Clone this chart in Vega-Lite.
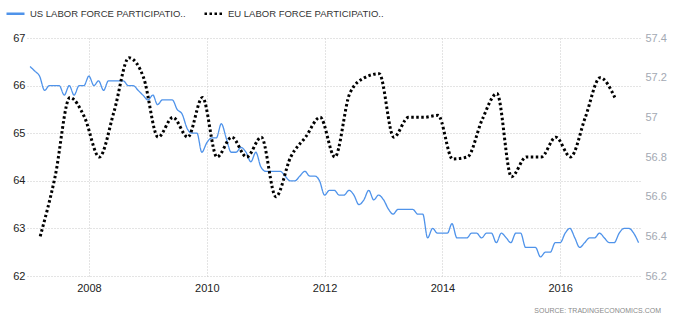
{
  "$schema": "https://vega.github.io/schema/vega-lite/v6.json",
  "width": 613,
  "height": 238,
  "autosize": {"type": "none"},
  "padding": {"left": 27, "top": 38, "right": 36, "bottom": 49},
  "background": "white",
  "config": {
    "view": {"stroke": null},
    "font": "Liberation Sans",
    "axis": {"domain": false, "ticks": false, "grid": true, "gridColor": "#c8c8c8", "gridDash": [1, 2], "gridWidth": 1, "labelFont": "Liberation Sans", "labelFontSize": 11, "title": null}
  },
  "title": {"text": "SOURCE: TRADINGECONOMICS.COM", "orient": "bottom", "anchor": "end", "frame": "group", "fontSize": 7, "fontWeight": "normal", "color": "#8a8a8a", "font": "Liberation Sans", "dx": 21, "offset": 14},
  "datasets": {
    "us": [
      {"series": "US LABOR FORCE PARTICIPATIO..", "date": "2007-01-01", "value": 66.4},
      {"series": "US LABOR FORCE PARTICIPATIO..", "date": "2007-02-01", "value": 66.3},
      {"series": "US LABOR FORCE PARTICIPATIO..", "date": "2007-03-01", "value": 66.2},
      {"series": "US LABOR FORCE PARTICIPATIO..", "date": "2007-04-01", "value": 65.9},
      {"series": "US LABOR FORCE PARTICIPATIO..", "date": "2007-05-01", "value": 66.0},
      {"series": "US LABOR FORCE PARTICIPATIO..", "date": "2007-06-01", "value": 66.0},
      {"series": "US LABOR FORCE PARTICIPATIO..", "date": "2007-07-01", "value": 66.0},
      {"series": "US LABOR FORCE PARTICIPATIO..", "date": "2007-08-01", "value": 65.8},
      {"series": "US LABOR FORCE PARTICIPATIO..", "date": "2007-09-01", "value": 66.0},
      {"series": "US LABOR FORCE PARTICIPATIO..", "date": "2007-10-01", "value": 65.8},
      {"series": "US LABOR FORCE PARTICIPATIO..", "date": "2007-11-01", "value": 66.0},
      {"series": "US LABOR FORCE PARTICIPATIO..", "date": "2007-12-01", "value": 66.0},
      {"series": "US LABOR FORCE PARTICIPATIO..", "date": "2008-01-01", "value": 66.2},
      {"series": "US LABOR FORCE PARTICIPATIO..", "date": "2008-02-01", "value": 66.0},
      {"series": "US LABOR FORCE PARTICIPATIO..", "date": "2008-03-01", "value": 66.1},
      {"series": "US LABOR FORCE PARTICIPATIO..", "date": "2008-04-01", "value": 65.9},
      {"series": "US LABOR FORCE PARTICIPATIO..", "date": "2008-05-01", "value": 66.1},
      {"series": "US LABOR FORCE PARTICIPATIO..", "date": "2008-06-01", "value": 66.1},
      {"series": "US LABOR FORCE PARTICIPATIO..", "date": "2008-07-01", "value": 66.1},
      {"series": "US LABOR FORCE PARTICIPATIO..", "date": "2008-08-01", "value": 66.1},
      {"series": "US LABOR FORCE PARTICIPATIO..", "date": "2008-09-01", "value": 66.0},
      {"series": "US LABOR FORCE PARTICIPATIO..", "date": "2008-10-01", "value": 66.0},
      {"series": "US LABOR FORCE PARTICIPATIO..", "date": "2008-11-01", "value": 65.9},
      {"series": "US LABOR FORCE PARTICIPATIO..", "date": "2008-12-01", "value": 65.8},
      {"series": "US LABOR FORCE PARTICIPATIO..", "date": "2009-01-01", "value": 65.7},
      {"series": "US LABOR FORCE PARTICIPATIO..", "date": "2009-02-01", "value": 65.8},
      {"series": "US LABOR FORCE PARTICIPATIO..", "date": "2009-03-01", "value": 65.6},
      {"series": "US LABOR FORCE PARTICIPATIO..", "date": "2009-04-01", "value": 65.7},
      {"series": "US LABOR FORCE PARTICIPATIO..", "date": "2009-05-01", "value": 65.7},
      {"series": "US LABOR FORCE PARTICIPATIO..", "date": "2009-06-01", "value": 65.7},
      {"series": "US LABOR FORCE PARTICIPATIO..", "date": "2009-07-01", "value": 65.5},
      {"series": "US LABOR FORCE PARTICIPATIO..", "date": "2009-08-01", "value": 65.4},
      {"series": "US LABOR FORCE PARTICIPATIO..", "date": "2009-09-01", "value": 65.1},
      {"series": "US LABOR FORCE PARTICIPATIO..", "date": "2009-10-01", "value": 65.0},
      {"series": "US LABOR FORCE PARTICIPATIO..", "date": "2009-11-01", "value": 65.0},
      {"series": "US LABOR FORCE PARTICIPATIO..", "date": "2009-12-01", "value": 64.6},
      {"series": "US LABOR FORCE PARTICIPATIO..", "date": "2010-01-01", "value": 64.8},
      {"series": "US LABOR FORCE PARTICIPATIO..", "date": "2010-02-01", "value": 64.9},
      {"series": "US LABOR FORCE PARTICIPATIO..", "date": "2010-03-01", "value": 64.9},
      {"series": "US LABOR FORCE PARTICIPATIO..", "date": "2010-04-01", "value": 65.2},
      {"series": "US LABOR FORCE PARTICIPATIO..", "date": "2010-05-01", "value": 64.9},
      {"series": "US LABOR FORCE PARTICIPATIO..", "date": "2010-06-01", "value": 64.6},
      {"series": "US LABOR FORCE PARTICIPATIO..", "date": "2010-07-01", "value": 64.6},
      {"series": "US LABOR FORCE PARTICIPATIO..", "date": "2010-08-01", "value": 64.7},
      {"series": "US LABOR FORCE PARTICIPATIO..", "date": "2010-09-01", "value": 64.6},
      {"series": "US LABOR FORCE PARTICIPATIO..", "date": "2010-10-01", "value": 64.4},
      {"series": "US LABOR FORCE PARTICIPATIO..", "date": "2010-11-01", "value": 64.6},
      {"series": "US LABOR FORCE PARTICIPATIO..", "date": "2010-12-01", "value": 64.3},
      {"series": "US LABOR FORCE PARTICIPATIO..", "date": "2011-01-01", "value": 64.2},
      {"series": "US LABOR FORCE PARTICIPATIO..", "date": "2011-02-01", "value": 64.2},
      {"series": "US LABOR FORCE PARTICIPATIO..", "date": "2011-03-01", "value": 64.2},
      {"series": "US LABOR FORCE PARTICIPATIO..", "date": "2011-04-01", "value": 64.2},
      {"series": "US LABOR FORCE PARTICIPATIO..", "date": "2011-05-01", "value": 64.1},
      {"series": "US LABOR FORCE PARTICIPATIO..", "date": "2011-06-01", "value": 64.0},
      {"series": "US LABOR FORCE PARTICIPATIO..", "date": "2011-07-01", "value": 64.0},
      {"series": "US LABOR FORCE PARTICIPATIO..", "date": "2011-08-01", "value": 64.1},
      {"series": "US LABOR FORCE PARTICIPATIO..", "date": "2011-09-01", "value": 64.2},
      {"series": "US LABOR FORCE PARTICIPATIO..", "date": "2011-10-01", "value": 64.1},
      {"series": "US LABOR FORCE PARTICIPATIO..", "date": "2011-11-01", "value": 64.1},
      {"series": "US LABOR FORCE PARTICIPATIO..", "date": "2011-12-01", "value": 64.0},
      {"series": "US LABOR FORCE PARTICIPATIO..", "date": "2012-01-01", "value": 63.7},
      {"series": "US LABOR FORCE PARTICIPATIO..", "date": "2012-02-01", "value": 63.8},
      {"series": "US LABOR FORCE PARTICIPATIO..", "date": "2012-03-01", "value": 63.8},
      {"series": "US LABOR FORCE PARTICIPATIO..", "date": "2012-04-01", "value": 63.7},
      {"series": "US LABOR FORCE PARTICIPATIO..", "date": "2012-05-01", "value": 63.7},
      {"series": "US LABOR FORCE PARTICIPATIO..", "date": "2012-06-01", "value": 63.8},
      {"series": "US LABOR FORCE PARTICIPATIO..", "date": "2012-07-01", "value": 63.7},
      {"series": "US LABOR FORCE PARTICIPATIO..", "date": "2012-08-01", "value": 63.5},
      {"series": "US LABOR FORCE PARTICIPATIO..", "date": "2012-09-01", "value": 63.6},
      {"series": "US LABOR FORCE PARTICIPATIO..", "date": "2012-10-01", "value": 63.8},
      {"series": "US LABOR FORCE PARTICIPATIO..", "date": "2012-11-01", "value": 63.6},
      {"series": "US LABOR FORCE PARTICIPATIO..", "date": "2012-12-01", "value": 63.7},
      {"series": "US LABOR FORCE PARTICIPATIO..", "date": "2013-01-01", "value": 63.6},
      {"series": "US LABOR FORCE PARTICIPATIO..", "date": "2013-02-01", "value": 63.4},
      {"series": "US LABOR FORCE PARTICIPATIO..", "date": "2013-03-01", "value": 63.3},
      {"series": "US LABOR FORCE PARTICIPATIO..", "date": "2013-04-01", "value": 63.4},
      {"series": "US LABOR FORCE PARTICIPATIO..", "date": "2013-05-01", "value": 63.4},
      {"series": "US LABOR FORCE PARTICIPATIO..", "date": "2013-06-01", "value": 63.4},
      {"series": "US LABOR FORCE PARTICIPATIO..", "date": "2013-07-01", "value": 63.4},
      {"series": "US LABOR FORCE PARTICIPATIO..", "date": "2013-08-01", "value": 63.3},
      {"series": "US LABOR FORCE PARTICIPATIO..", "date": "2013-09-01", "value": 63.3},
      {"series": "US LABOR FORCE PARTICIPATIO..", "date": "2013-10-01", "value": 62.8},
      {"series": "US LABOR FORCE PARTICIPATIO..", "date": "2013-11-01", "value": 63.0},
      {"series": "US LABOR FORCE PARTICIPATIO..", "date": "2013-12-01", "value": 62.9},
      {"series": "US LABOR FORCE PARTICIPATIO..", "date": "2014-01-01", "value": 62.9},
      {"series": "US LABOR FORCE PARTICIPATIO..", "date": "2014-02-01", "value": 62.9},
      {"series": "US LABOR FORCE PARTICIPATIO..", "date": "2014-03-01", "value": 63.1},
      {"series": "US LABOR FORCE PARTICIPATIO..", "date": "2014-04-01", "value": 62.8},
      {"series": "US LABOR FORCE PARTICIPATIO..", "date": "2014-05-01", "value": 62.8},
      {"series": "US LABOR FORCE PARTICIPATIO..", "date": "2014-06-01", "value": 62.8},
      {"series": "US LABOR FORCE PARTICIPATIO..", "date": "2014-07-01", "value": 62.9},
      {"series": "US LABOR FORCE PARTICIPATIO..", "date": "2014-08-01", "value": 62.9},
      {"series": "US LABOR FORCE PARTICIPATIO..", "date": "2014-09-01", "value": 62.8},
      {"series": "US LABOR FORCE PARTICIPATIO..", "date": "2014-10-01", "value": 62.9},
      {"series": "US LABOR FORCE PARTICIPATIO..", "date": "2014-11-01", "value": 62.9},
      {"series": "US LABOR FORCE PARTICIPATIO..", "date": "2014-12-01", "value": 62.7},
      {"series": "US LABOR FORCE PARTICIPATIO..", "date": "2015-01-01", "value": 62.9},
      {"series": "US LABOR FORCE PARTICIPATIO..", "date": "2015-02-01", "value": 62.8},
      {"series": "US LABOR FORCE PARTICIPATIO..", "date": "2015-03-01", "value": 62.7},
      {"series": "US LABOR FORCE PARTICIPATIO..", "date": "2015-04-01", "value": 62.9},
      {"series": "US LABOR FORCE PARTICIPATIO..", "date": "2015-05-01", "value": 62.9},
      {"series": "US LABOR FORCE PARTICIPATIO..", "date": "2015-06-01", "value": 62.6},
      {"series": "US LABOR FORCE PARTICIPATIO..", "date": "2015-07-01", "value": 62.6},
      {"series": "US LABOR FORCE PARTICIPATIO..", "date": "2015-08-01", "value": 62.6},
      {"series": "US LABOR FORCE PARTICIPATIO..", "date": "2015-09-01", "value": 62.4},
      {"series": "US LABOR FORCE PARTICIPATIO..", "date": "2015-10-01", "value": 62.5},
      {"series": "US LABOR FORCE PARTICIPATIO..", "date": "2015-11-01", "value": 62.5},
      {"series": "US LABOR FORCE PARTICIPATIO..", "date": "2015-12-01", "value": 62.7},
      {"series": "US LABOR FORCE PARTICIPATIO..", "date": "2016-01-01", "value": 62.7},
      {"series": "US LABOR FORCE PARTICIPATIO..", "date": "2016-02-01", "value": 62.9},
      {"series": "US LABOR FORCE PARTICIPATIO..", "date": "2016-03-01", "value": 63.0},
      {"series": "US LABOR FORCE PARTICIPATIO..", "date": "2016-04-01", "value": 62.8},
      {"series": "US LABOR FORCE PARTICIPATIO..", "date": "2016-05-01", "value": 62.6},
      {"series": "US LABOR FORCE PARTICIPATIO..", "date": "2016-06-01", "value": 62.7},
      {"series": "US LABOR FORCE PARTICIPATIO..", "date": "2016-07-01", "value": 62.8},
      {"series": "US LABOR FORCE PARTICIPATIO..", "date": "2016-08-01", "value": 62.8},
      {"series": "US LABOR FORCE PARTICIPATIO..", "date": "2016-09-01", "value": 62.9},
      {"series": "US LABOR FORCE PARTICIPATIO..", "date": "2016-10-01", "value": 62.8},
      {"series": "US LABOR FORCE PARTICIPATIO..", "date": "2016-11-01", "value": 62.7},
      {"series": "US LABOR FORCE PARTICIPATIO..", "date": "2016-12-01", "value": 62.7},
      {"series": "US LABOR FORCE PARTICIPATIO..", "date": "2017-01-01", "value": 62.9},
      {"series": "US LABOR FORCE PARTICIPATIO..", "date": "2017-02-01", "value": 63.0},
      {"series": "US LABOR FORCE PARTICIPATIO..", "date": "2017-03-01", "value": 63.0},
      {"series": "US LABOR FORCE PARTICIPATIO..", "date": "2017-04-01", "value": 62.9},
      {"series": "US LABOR FORCE PARTICIPATIO..", "date": "2017-05-01", "value": 62.7}
    ],
    "eu": [
      {"series": "EU LABOR FORCE PARTICIPATIO..", "date": "2007-03-05", "value": 56.40},
      {"series": "EU LABOR FORCE PARTICIPATIO..", "date": "2007-06-05", "value": 56.70},
      {"series": "EU LABOR FORCE PARTICIPATIO..", "date": "2007-09-05", "value": 57.10},
      {"series": "EU LABOR FORCE PARTICIPATIO..", "date": "2007-12-05", "value": 57.00},
      {"series": "EU LABOR FORCE PARTICIPATIO..", "date": "2008-03-05", "value": 56.80},
      {"series": "EU LABOR FORCE PARTICIPATIO..", "date": "2008-06-05", "value": 57.03},
      {"series": "EU LABOR FORCE PARTICIPATIO..", "date": "2008-09-05", "value": 57.30},
      {"series": "EU LABOR FORCE PARTICIPATIO..", "date": "2008-12-05", "value": 57.20},
      {"series": "EU LABOR FORCE PARTICIPATIO..", "date": "2009-03-05", "value": 56.90},
      {"series": "EU LABOR FORCE PARTICIPATIO..", "date": "2009-06-05", "value": 57.00},
      {"series": "EU LABOR FORCE PARTICIPATIO..", "date": "2009-09-05", "value": 56.90},
      {"series": "EU LABOR FORCE PARTICIPATIO..", "date": "2009-12-05", "value": 57.10},
      {"series": "EU LABOR FORCE PARTICIPATIO..", "date": "2010-03-05", "value": 56.80},
      {"series": "EU LABOR FORCE PARTICIPATIO..", "date": "2010-06-05", "value": 56.90},
      {"series": "EU LABOR FORCE PARTICIPATIO..", "date": "2010-09-05", "value": 56.80},
      {"series": "EU LABOR FORCE PARTICIPATIO..", "date": "2010-12-05", "value": 56.90},
      {"series": "EU LABOR FORCE PARTICIPATIO..", "date": "2011-03-05", "value": 56.60},
      {"series": "EU LABOR FORCE PARTICIPATIO..", "date": "2011-06-05", "value": 56.80},
      {"series": "EU LABOR FORCE PARTICIPATIO..", "date": "2011-09-05", "value": 56.90},
      {"series": "EU LABOR FORCE PARTICIPATIO..", "date": "2011-12-05", "value": 57.00},
      {"series": "EU LABOR FORCE PARTICIPATIO..", "date": "2012-03-05", "value": 56.80},
      {"series": "EU LABOR FORCE PARTICIPATIO..", "date": "2012-06-05", "value": 57.12},
      {"series": "EU LABOR FORCE PARTICIPATIO..", "date": "2012-09-05", "value": 57.20},
      {"series": "EU LABOR FORCE PARTICIPATIO..", "date": "2012-12-05", "value": 57.22},
      {"series": "EU LABOR FORCE PARTICIPATIO..", "date": "2013-03-05", "value": 56.90},
      {"series": "EU LABOR FORCE PARTICIPATIO..", "date": "2013-06-05", "value": 57.00},
      {"series": "EU LABOR FORCE PARTICIPATIO..", "date": "2013-09-05", "value": 57.00},
      {"series": "EU LABOR FORCE PARTICIPATIO..", "date": "2013-12-05", "value": 57.01},
      {"series": "EU LABOR FORCE PARTICIPATIO..", "date": "2014-03-05", "value": 56.79},
      {"series": "EU LABOR FORCE PARTICIPATIO..", "date": "2014-06-05", "value": 56.80},
      {"series": "EU LABOR FORCE PARTICIPATIO..", "date": "2014-09-05", "value": 56.99},
      {"series": "EU LABOR FORCE PARTICIPATIO..", "date": "2014-12-05", "value": 57.12},
      {"series": "EU LABOR FORCE PARTICIPATIO..", "date": "2015-03-05", "value": 56.70},
      {"series": "EU LABOR FORCE PARTICIPATIO..", "date": "2015-06-05", "value": 56.80},
      {"series": "EU LABOR FORCE PARTICIPATIO..", "date": "2015-09-05", "value": 56.80},
      {"series": "EU LABOR FORCE PARTICIPATIO..", "date": "2015-12-05", "value": 56.90},
      {"series": "EU LABOR FORCE PARTICIPATIO..", "date": "2016-03-05", "value": 56.80},
      {"series": "EU LABOR FORCE PARTICIPATIO..", "date": "2016-06-05", "value": 57.00},
      {"series": "EU LABOR FORCE PARTICIPATIO..", "date": "2016-09-05", "value": 57.20},
      {"series": "EU LABOR FORCE PARTICIPATIO..", "date": "2016-12-05", "value": 57.10}
    ]
  },
  "encoding": {
    "x": {
      "field": "date",
      "type": "temporal",
      "scale": {"domain": [{"year": 2006, "month": 12, "date": 13}, {"year": 2017, "month": 5, "date": 10}]},
      "axis": {"values": [{"year": 2008}, {"year": 2010}, {"year": 2012}, {"year": 2014}, {"year": 2016}], "format": "%Y", "labelColor": "#222222", "labelPadding": 6, "gridDash": [1, 2]}
    },
    "color": {
      "field": "series",
      "type": "nominal",
      "scale": {"domain": ["US LABOR FORCE PARTICIPATIO..", "EU LABOR FORCE PARTICIPATIO.."], "range": ["#4f93ea", "#000000"]},
      "legend": {"title": null, "orient": "none", "legendX": -22, "legendY": -35, "direction": "horizontal", "symbolType": "stroke", "symbolSize": 324, "symbolStrokeWidth": 2.5, "labelFontSize": 9.5, "labelFont": "Liberation Sans", "labelColor": "#333333", "labelOffset": 4, "columnPadding": 13, "padding": 0, "labelLimit": 300}
    },
    "strokeDash": {
      "field": "series",
      "type": "nominal",
      "scale": {"domain": ["US LABOR FORCE PARTICIPATIO..", "EU LABOR FORCE PARTICIPATIO.."], "range": [[1, 0], [2.5, 2.5]]},
      "legend": {"title": null, "orient": "none", "legendX": -22, "legendY": -35, "direction": "horizontal", "symbolType": "stroke", "symbolSize": 324, "symbolStrokeWidth": 2.5, "labelFontSize": 9.5, "labelFont": "Liberation Sans", "labelColor": "#333333", "labelOffset": 4, "columnPadding": 13, "padding": 0, "labelLimit": 300}
    }
  },
  "layer": [
    {
      "data": {"name": "us"},
      "mark": {"type": "line", "interpolate": "monotone", "strokeWidth": 1.3},
      "encoding": {
        "y": {
          "field": "value",
          "type": "quantitative",
          "scale": {"domain": [62, 67], "nice": false, "zero": false},
          "axis": {"orient": "left", "values": [62, 63, 64, 65, 66, 67], "labelColor": "#222222", "labelPadding": 2}
        }
      }
    },
    {
      "data": {"name": "eu"},
      "mark": {"type": "line", "interpolate": "monotone", "strokeWidth": 3},
      "encoding": {
        "y": {
          "field": "value",
          "type": "quantitative",
          "scale": {"domain": [56.2, 57.4], "nice": false, "zero": false},
          "axis": {"orient": "right", "values": [56.2, 56.4, 56.6, 56.8, 57, 57.2, 57.4], "format": "~g", "labelColor": "#a3a9b3", "labelPadding": 5}
        }
      }
    }
  ],
  "resolve": {"scale": {"y": "independent"}}
}
